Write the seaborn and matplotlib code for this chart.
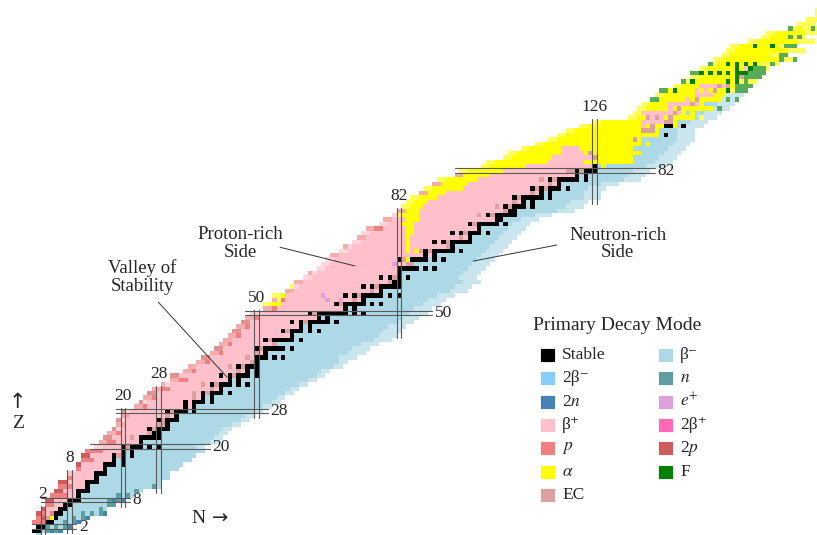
import re
import numpy as np
import matplotlib
matplotlib.use("Agg")
import matplotlib.pyplot as plt
from matplotlib.colors import ListedColormap
from matplotlib.patches import Rectangle
import seaborn as sns

sns.set_style("white")
plt.rcParams['font.family'] = ['Liberation Serif', 'DejaVu Serif']
plt.rcParams['mathtext.fontset'] = 'stix'

# decay modes: code, legend label, colour (legend order: 7 left, 6 right)
MODE_CODES = ['S', 'B', 'N', '+', 'p', 'a', 'E', '-', 'n', 'e', 'H', 'P', 'F']
MODE_LABELS = ['Stable', '2β⁻', '2$n$', 'β⁺', '$p$', r'$\alpha$', 'EC',
               'β⁻', '$n$', '$e^{+}$', '2β⁺', '2$p$', 'F']
MODE_COLORS = ['black', 'lightskyblue', 'steelblue', 'pink', 'lightcoral',
               'yellow', '#DDA0A0', 'lightblue', 'cadetblue', 'plum',
               'hotpink', 'indianred', 'green']

# lightest known mass number for each Z (index = Z)
A_MIN = [1, 1, 3, 3, 5, 6, 8, 10, 11, 13,
         15, 17, 18, 21, 22, 25, 26, 28, 29, 31,
         34, 36, 38, 40, 42, 44, 45, 47, 48, 52,
         54, 56, 58, 60, 63, 66, 67, 71, 73, 76,
         78, 81, 83, 85, 87, 89, 91, 93, 95, 97,
         99, 103, 104, 107, 108, 112, 114, 116, 119, 121,
         124, 126, 128, 130, 133, 135, 138, 140, 142, 144,
         148, 150, 153, 155, 157, 159, 161, 164, 166, 169,
         171, 176, 178, 184, 186, 191, 193, 197, 201, 205,
         208, 211, 215, 219, 228, 230, 232, 234, 237, 239,
         241, 245, 248, 251, 252, 255, 258, 260, 263, 265,
         267, 272, 276, 278, 284, 287, 290, 293, 294]

# primary decay mode along each Z row, from A_MIN upward (code + run length)
MODES = [
    "-",
    "S2 - n N n N",
    "S2 n - n - n N",
    "p3 S2 -2 n - n N",
    "p P E a S -3 n - n N",
    "P p + p S2 -4 n - n - n N",
    "P +3 S2 -7 n -",
    "p2 +2 S2 -8 n2",
    "P2 +3 S3 -6 n N n N",
    "p4 +2 S -8 n - n -",
    "P2 +3 S3 -10 n -",
    "p3 +3 S -14 n -",
    "P2 +4 S3 -14",
    "p +5 S -16",
    "+6 S3 -14",
    "p +5 S -16",
    "P +5 S3 - S -13",
    "p3 +4 S - S -15",
    "P2 +5 S E S - S -14",
    "p4 +4 S - S -16",
    "+6 S E S3 - S - S -10",
    "p4 +5 S -17",
    "P2 +4 E + S5 -14",
    "p3 +6 E S2 -15",
    "P +7 S E S3 -14",
    "p2 +7 E2 S -16",
    "P +8 S E S3 -16",
    "p2 +8 E + S -17",
    "P +9 S E S3 - S -15",
    "p3 +8 S + S -17",
    "P +9 S + S3 - S -15",
    "p3 +8 E + S - S -16",
    "P2 +8 E + S E S3 - S -14",
    "p4 +9 E + S -17",
    "p +8 E + S E S3 - S - S -13",
    "p4 +9 S - S -17",
    "P2 +9 S + S E S3 - S -15",
    "p3 +9 E + S - S -16",
    "p2 +7 E + S E S3 -19",
    "p3 +9 E S -20",
    "P2 +8 E + S3 - S - S -16",
    "p3 +7 E + S -22",
    "P2 +7 S E S5 - S -17",
    "p3 +9 E -23",
    "p2 +7 S E S5 - S -20",
    "p3 +11 S -23",
    "P2 +9 S E S3 - S - S -18",
    "p3 +11 S - S -21",
    "P2 +9 S + S E S5 - S -17",
    "p3 +13 S - S -20",
    "+13 S E S7 - S - S -14",
    "p3 +15 S - S -17",
    "a4 +12 S E S5 - S - S -13",
    "p a p +9 e +2 e +2 E + S -18",
    "a3 +8 e +4 S + S E S5 - S - S -12",
    "p2 +17 E + S -19",
    "a +15 S + S E S5 -16",
    "p2 +19 E S2 -18",
    "+17 S + S E S - S -15",
    "p +19 S -18",
    "+18 S5 - S - S -11",
    "+16 e +2 E2 -17",
    "+16 S E a S4 - S - S -11",
    "p2 +19 S + S -14",
    "+15 a + a E S E S5 - S -9",
    "p +13 a +8 E S -12",
    "+12 a +5 S + S E S5 -9",
    "p2 +9 a +11 E + S -10",
    "+10 a2 +8 S + S E S3 - S -7",
    "p4 +5 a2 +14 S -10",
    "+5 a3 +12 S E S5 - S -5",
    "p2 +3 a3 +17 S2 -8",
    "+ a5 +13 E + S E S5 -8",
    "p2 a3 +19 E S2 -13",
    "a5 +16 E + S E S3 - S -11",
    "a5 +18 + E + S - S -12",
    "a6 +17 S E S5 - S -11",
    "p2 a4 +19 E + S - S -11",
    "a9 +15 S E S E S3 - S -8",
    "p2 a6 +18 E + S -13",
    "a9 +14 E + S E S5 - S -12",
    "p2 a6 +19 S - S -13",
    "a10 +14 E2 S E S3 -12",
    "a10 +15 S - a -13",
    "a14 +8 a11 -9",
    "a11 +9 E a8 -10",
    "a12 +5 a E a11 -9",
    "a9 +4 a12 -12",
    "a24 - a -9",
    "a19 E a -12",
    "a23 - S -6",
    "a17 E3 a -8",
    "a14 + a E a2 S2 a - S -4",
    "a11 +5 E2 a -7",
    "a4 E + E + a E a5 - a -3",
    "a2 +7 E + a - a -6",
    "a7 + a E a7 - F -2",
    "a6 +5 E + a -7",
    "F2 a6 + a E a5 - F - F",
    "a9 +4 a3 -4",
    "F2 a F a4 + a + a E a2 F a F3",
    "a6 +4 E + E a F4",
    "F a F a7 F a F a F a2",
    "a10 F E F4",
    "F3 a F a F a F a F7",
    "a8 F a + F4 a",
    "F a3 F a F a F a F a3 F a",
    "a15 F a2 F",
    "a13 F2",
    "a18",
    "a5 F a3 F a2 F3",
    "a15",
    "a6 F a F a",
    "a13",
    "F a4 F a",
    "a4",
    "a4",
    "a2",
    "a",
]

MAGIC = [2, 8, 20, 28, 50, 82, 126]

# build the Z x N table of mode indices
code_index = {c: i for i, c in enumerate(MODE_CODES)}
grid = np.full((len(MODES), 180), np.nan)
for z, (a0, row) in enumerate(zip(A_MIN, MODES)):
    n = a0 - z
    for code, cnt in re.findall(r'([A-Za-z+\-])(\d*)', row):
        k = int(cnt) if cnt else 1
        grid[z, n:n + k] = code_index[code]
        n += k

# outermost (less certain) nuclides of each row are drawn a little paler
pale = np.full(grid.shape, np.nan)
for z in range(20, len(MODES)):
    ns = np.where(~np.isnan(grid[z]))[0]
    k_out = 2 if z < 40 else 4
    for n in list(ns[:2]) + list(ns[-k_out:]):
        if grid[z, n] != 0:
            pale[z, n] = 0

fig = plt.figure(figsize=(8.17, 5.35), dpi=100)
ax = fig.add_axes([0, 0, 1, 1])
sns.heatmap(grid, mask=np.isnan(grid), cmap=ListedColormap(MODE_COLORS),
            vmin=-0.5, vmax=len(MODE_COLORS) - 0.5, cbar=False,
            linewidths=0, xticklabels=False, yticklabels=False, ax=ax)
sns.heatmap(pale, mask=np.isnan(pale), cmap=ListedColormap(['white']),
            alpha=0.35, cbar=False, linewidths=0,
            xticklabels=False, yticklabels=False, ax=ax)
ax.set_xlim(-7.14, 176.46)
ax.set_ylim(0.64, 120.86)
ax.set_axis_off()

line_kw = dict(color='#5a5a5a', lw=0.8, zorder=5)
# magic neutron numbers: vertical double lines
for m in MAGIC:
    zs = np.where(~np.isnan(grid[:, m]))[0]
    for xx in (m, m + 1):
        ax.plot([xx, xx], [zs.min() - 1.0, zs.max() + 1.2], **line_kw)
    ax.text(m + 0.5, zs.max() + 3.9, str(m), ha='center', va='center',
            fontsize=12.5)
# magic proton numbers: horizontal double lines
for m in MAGIC[:-1]:
    ns = np.where(~np.isnan(grid[m]))[0]
    for yy in (m, m + 1):
        ax.plot([ns.min() - 1.0, ns.max() + 2.0], [yy, yy], **line_kw)
    ax.text(ns.max() + 2.6, m + 0.5, str(m), ha='left', va='center',
            fontsize=12.5)

# annotations
ann_kw = dict(ha='center', va='center', fontsize=13.5, linespacing=1.05)
ax.text(24.8, 58.6, 'Valley of\nStability', **ann_kw)
ax.plot([28.4, 43.9], [53.0, 36.1], color='#333333', lw=0.7)
ax.text(46.8, 66.2, 'Proton-rich\nSide', **ann_kw)
ax.plot([55.8, 72.6], [65.3, 61.1], color='#333333', lw=0.7)
ax.text(131.7, 66.0, 'Neutron-rich\nSide', **ann_kw)
ax.plot([118.0, 99.2], [65.8, 62.2], color='#333333', lw=0.7)

ax.text(-3.1, 30.6, '↑', ha='center', va='center', fontsize=15,
        family='DejaVu Sans')
ax.text(-3.1, 25.8, 'Z', ha='center', va='center', fontsize=14)
ax.text(37.4, 4.3, 'N', ha='center', va='center', fontsize=14)
ax.text(42.4, 4.3, '→', ha='center', va='center', fontsize=14,
        family='DejaVu Sans')

# legend (drawn in figure pixels)
W, H = 817, 535
fig.text(617 / W, 1 - 326 / H, 'Primary Decay Mode', ha='center',
         va='center', fontsize=14)
for i, (lab, col) in enumerate(zip(MODE_LABELS, MODE_COLORS)):
    c, r = divmod(i, 7)
    x0 = 540 + c * 118
    yc = 355 + r * 23.3
    fig.add_artist(Rectangle((x0 / W, 1 - (yc + 7) / H), 15 / W, 14 / H,
                             transform=fig.transFigure, facecolor=col,
                             edgecolor='white', lw=0.6))
    fig.text((x0 + 22) / W, 1 - yc / H, lab, ha='left', va='center',
             fontsize=12.5)

fig.savefig('out.png', dpi=100)
